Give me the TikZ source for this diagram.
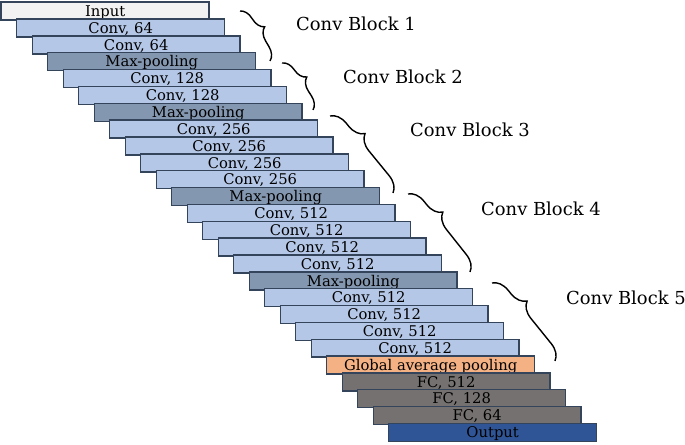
\documentclass[tikz,border=0pt]{standalone}
\usepackage{fontspec}
\setmainfont{DejaVu Serif}
\usetikzlibrary{decorations.pathreplacing}

\definecolor{inputgray}{HTML}{F2F2F2}
\definecolor{convblue}{HTML}{B4C7E7}
\definecolor{poolblue}{HTML}{8497B0}
\definecolor{gaporange}{HTML}{F4B183}
\definecolor{fcgray}{HTML}{767171}
\definecolor{outblue}{HTML}{2F5597}
\definecolor{edgeblue}{HTML}{34445A}

\tikzset{
  layer/.style={draw=edgeblue,line width=0.8pt,anchor=north west,
    minimum width=4.16cm,minimum height=0.36cm,inner sep=0pt,
    text height=1.5ex,text depth=0.35ex,font=\fontsize{8.4}{9}\selectfont},
  inlayer/.style={layer,fill=inputgray},
  convlayer/.style={layer,fill=convblue},
  poollayer/.style={layer,fill=poolblue},
  gaplayer/.style={layer,fill=gaporange},
  fclayer/.style={layer,fill=fcgray},
  outlayer/.style={layer,fill=outblue},
  blockbrace/.style={decorate,line width=0.8pt,
    decoration={brace,amplitude=0.32cm,aspect=#1}},
  blockbrace/.default=0.36,
  blocklabel/.style={anchor=west,font=\fontsize{10.2}{12}\selectfont}
}

\begin{document}
\begin{tikzpicture}[x=0.02cm,y=-0.02cm]
\useasboundingbox (0,0) rectangle (685,445);

% layers, top to bottom
\node[inlayer]   (inp) at (0.5,1.5)    {Input};
\node[convlayer] (c1a) at (16,18.35)   {Conv, 64};
\node[convlayer] (c1b) at (31.5,35.2)  {Conv, 64};
\node[poollayer] (p1)  at (47,52.05)   {Max-pooling};
\node[convlayer] (c2a) at (62.5,68.9)  {Conv, 128};
\node[convlayer] (c2b) at (78,85.75)   {Conv, 128};
\node[poollayer] (p2)  at (93.5,102.6) {Max-pooling};
\node[convlayer] (c3a) at (109,119.45) {Conv, 256};
\node[convlayer] (c3b) at (124.5,136.3) {Conv, 256};
\node[convlayer] (c3c) at (140,153.15) {Conv, 256};
\node[convlayer] (c3d) at (155.5,170)  {Conv, 256};
\node[poollayer] (p3)  at (171,186.85) {Max-pooling};
\node[convlayer] (c4a) at (186.5,203.7) {Conv, 512};
\node[convlayer] (c4b) at (202,220.55) {Conv, 512};
\node[convlayer] (c4c) at (217.5,237.4) {Conv, 512};
\node[convlayer] (c4d) at (233,254.25) {Conv, 512};
\node[poollayer] (p4)  at (248.5,271.1) {Max-pooling};
\node[convlayer] (c5a) at (264,287.95) {Conv, 512};
\node[convlayer] (c5b) at (279.5,304.8) {Conv, 512};
\node[convlayer] (c5c) at (295,321.65) {Conv, 512};
\node[convlayer] (c5d) at (310.5,338.5) {Conv, 512};
\node[gaplayer]  (gap) at (326,355.35) {Global average pooling};
\node[fclayer]   (fc1) at (341.5,372.2) {FC, 512};
\node[fclayer]   (fc2) at (357,389.05) {FC, 128};
\node[fclayer]   (fc3) at (372.5,405.9) {FC, 64};
\node[outlayer]  (outp) at (388,422.75) {Output};

% block braces
\draw[blockbrace=0.45,decoration={amplitude=0.26cm}] (240,11) -- (270,61);
\draw[blockbrace=0.45,decoration={amplitude=0.26cm}] (282,63) -- (313,110);
\draw[blockbrace] (330,116) -- (393,193);
\draw[blockbrace] (408,194) -- (470,272);
\draw[blockbrace] (492,283) -- (555,361);

\node[blocklabel] (b1) at (290,24)  {Conv Block 1};
\node[blocklabel] (b2) at (337,77)  {Conv Block 2};
\node[blocklabel] (b3) at (404,130) {Conv Block 3};
\node[blocklabel] (b4) at (475,209) {Conv Block 4};
\node[blocklabel] (b5) at (560,298) {Conv Block 5};
\end{tikzpicture}
\end{document}
